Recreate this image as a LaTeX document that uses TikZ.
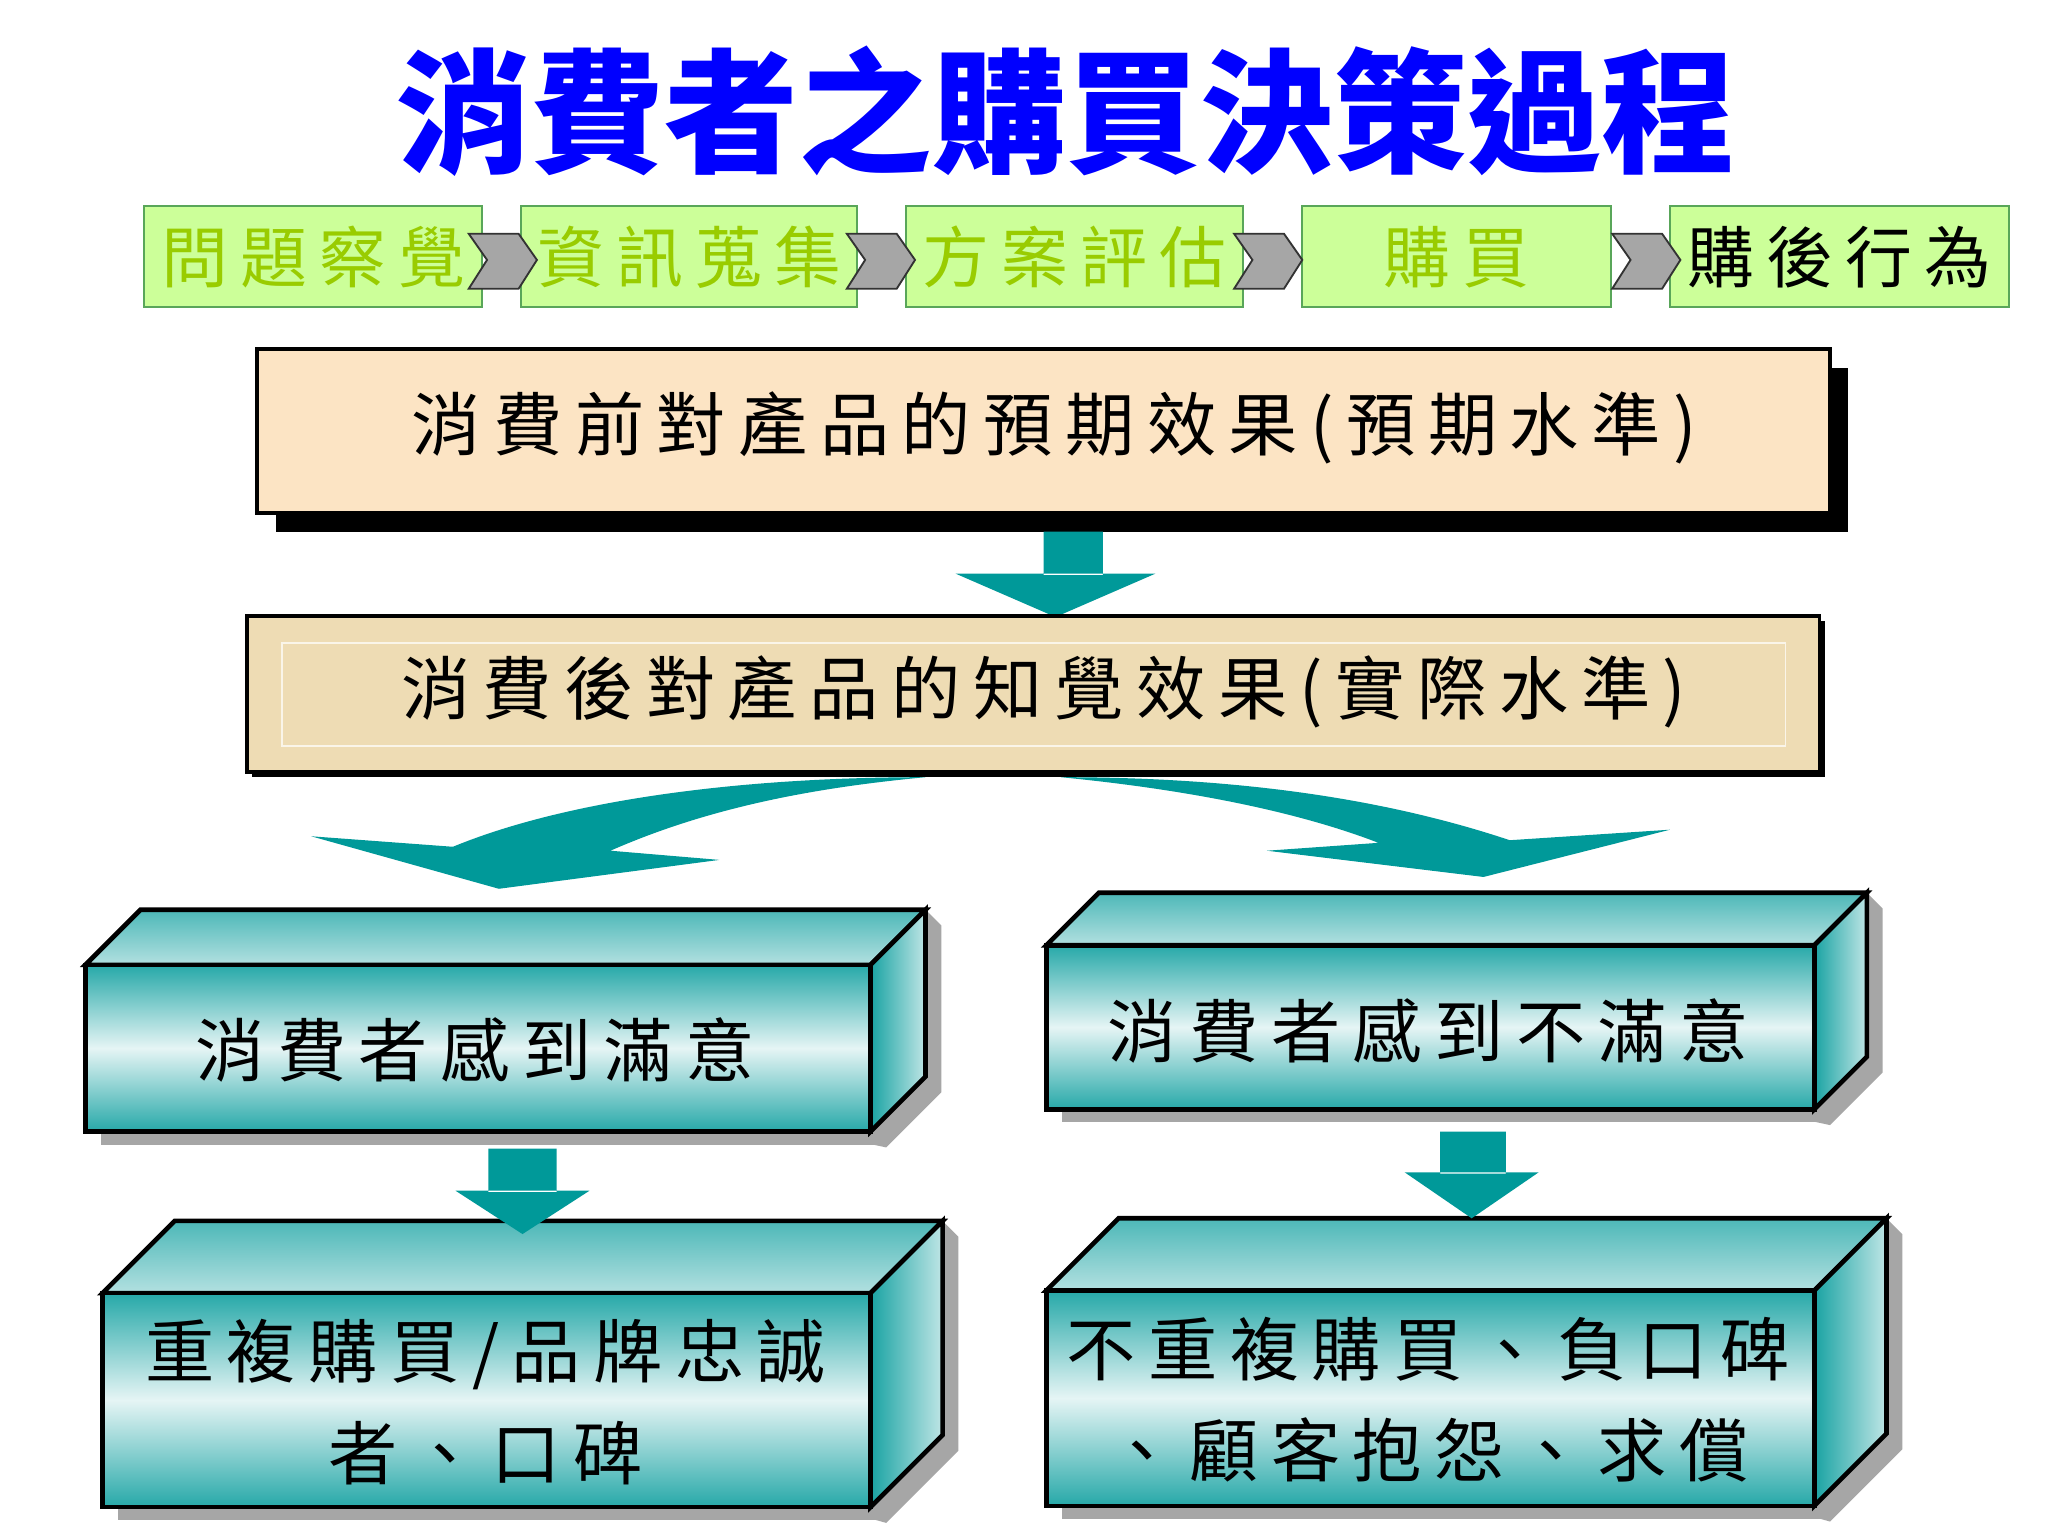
\documentclass[tikz,border=0pt]{standalone}
\usepackage{fontspec}
\newfontfamily\cjk{Noto Sans CJK TC}
\newfontfamily\cjks[LetterSpace=18]{Noto Sans CJK TC}
\usetikzlibrary{shadings}
\definecolor{tealA}{HTML}{009999}
\definecolor{stepfill}{HTML}{CCFF99}
\definecolor{steptext}{HTML}{99CC00}
\definecolor{peach}{HTML}{FCE4C4}
\definecolor{tan}{HTML}{EEDCB4}
\tikzset{
 stepbox/.style={draw=gray!70!green, fill=stepfill},
 steplbl/.style={font=\cjks\fontsize{14.5}{16}\selectfont, text=steptext},
 chev/.style={fill=gray!70, draw=gray!40!black},
 bigtxt/.style={font=\cjks\fontsize{15}{22}\selectfont, align=center},
 tarrow/.style={fill=tealA, draw=none},
 front/.style={draw=black, line width=1pt, shading=axis, top color=tealA!85, bottom color=tealA!85, middle color=tealA!10},
 topf/.style={draw=black, line width=1pt, shading=axis, top color=tealA!70, bottom color=tealA!30},
 sidef/.style={draw=black, line width=1pt, shading=axis, left color=tealA!90, right color=tealA!25, shading angle=90},
}
\begin{document}
\begin{tikzpicture}[x=0.01cm,y=-0.01cm]
\useasboundingbox[fill=white] (0,0) rectangle (1560,1170);
\node[font=\cjk\bfseries\fontsize{29}{32}\selectfont, text=blue] (title) at (812,85) {消費者之購買決策過程};
% steps
\foreach \n/\a/\b/\t/\c in {s1/110/367/問題察覺/steptext, s2/397/653/資訊蒐集/steptext, s3/690/947/方案評估/steptext, s4/992/1227/購買/steptext, s5/1272/1530/購後行為/black}{
 \draw[stepbox] (\a,157) rectangle (\b,234);
 \node[steplbl, text=\c] (\n) at ({(\a+\b)/2},196) {\t};
}
\foreach \x in {357,645,940,1228}{
 \draw[chev] (\x,178)--(\x+38,178)--(\x+52,198)--(\x+38,220)--(\x,220)--(\x+14,198)--cycle;
}
% box 1
\fill[black] (210,280) rectangle (1408,405);
\draw[fill=peach, line width=0.8pt] (196,266) rectangle (1394,391);
\node[bigtxt] (b1) at (803,326) {消費前對產品的預期效果(預期水準)};
% arrow 1
\fill[tarrow] (795,405) rectangle (840,438) (728,437)--(880,437)--(804,470)--cycle;
% box 2
\fill[black] (192,473) rectangle (1390,592);
\draw[fill=tan, line width=0.8pt] (188,469) rectangle (1386,588);
\draw[white!70!tan] (215,490) rectangle (1360,568);
\node[bigtxt] (b2) at (795,527) {消費後對產品的知覺效果(實際水準)};
% curved arrows
\fill[tarrow] (705,592) .. controls (560,592) and (430,610) .. (345,645) -- (237,637) -- (380,677) -- (548,655) -- (465,648) .. controls (540,615) and (620,600) .. (705,592) -- cycle;
\fill[tarrow] (808,592) .. controls (950,592) and (1060,610) .. (1150,640) -- (1272,632) -- (1130,668) -- (965,648) -- (1050,642) .. controls (980,615) and (890,600) .. (808,592) -- cycle;
% 3D boxes
\newcommand{\dbox}[6]{% x1 y1 x2 y2 depth name
 \fill[gray!70] (#1+12,#2+12) -- (#3+12,#4+12) -- (#3+12+#5,#4+12-#5) -- (#3+#5+12,#2-#5+12) -- (#3+#5,#2-#5) -- (#3,#4) -- cycle;
 \fill[gray!70] (#1+12,#4) rectangle (#3+12,#4+10);
 \draw[topf] (#1,#2) -- (#1+#5,#2-#5) -- (#3+#5,#2-#5) -- (#3,#2) -- cycle;
 \draw[sidef] (#3,#2) -- (#3+#5,#2-#5) -- (#3+#5,#4-#5) -- (#3,#4) -- cycle;
 \draw[front] (#1,#2) rectangle (#3,#4);
}
\dbox{65}{735}{663}{862}{42}{L1}
\node[bigtxt] (l1) at (362,800) {消費者感到滿意};
\dbox{797}{720}{1382}{845}{40}{R1}
\node[bigtxt] (r1) at (1088,785) {消費者感到不滿意};
\dbox{78}{985}{663}{1148}{55}{L2}
\node[bigtxt] (l2) at (370,1068) {重複購買/品牌忠誠\\者、口碑};
\dbox{797}{983}{1382}{1147}{55}{R2}
\node[bigtxt] (r2) at (1088,1066) {不重複購買、負口碑\\、顧客抱怨、求償};
% small arrows
\fill[tarrow] (372,875) rectangle (424,908) (347,907)--(449,907)--(398,940)--cycle;
\fill[tarrow] (1097,862) rectangle (1147,894) (1070,893)--(1172,893)--(1121,928)--cycle;
\end{tikzpicture}
\end{document}
